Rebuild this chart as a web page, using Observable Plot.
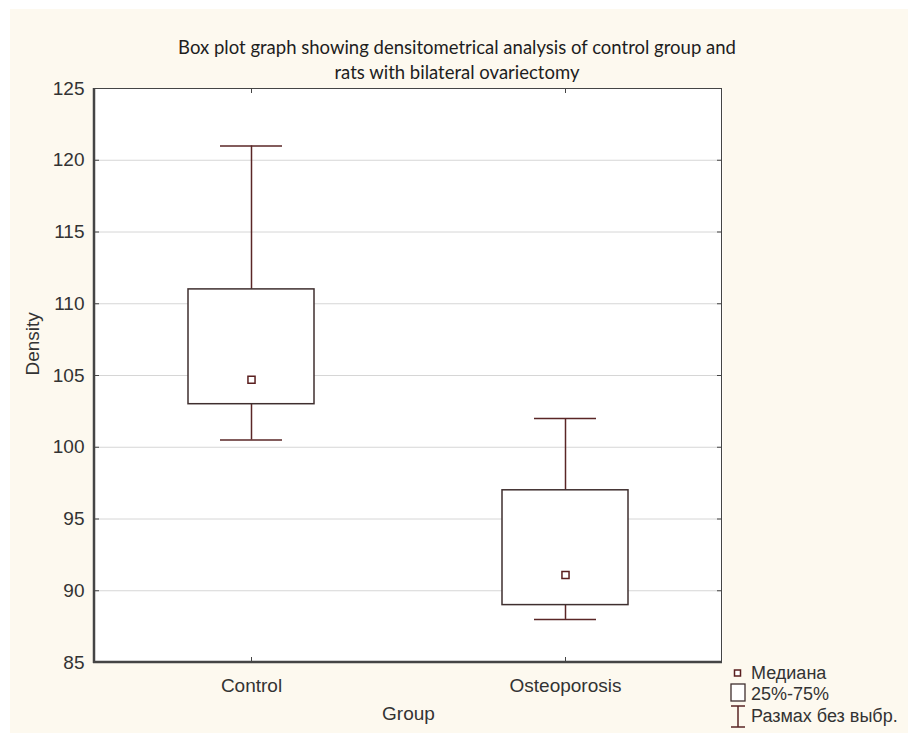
<!DOCTYPE html>
<html>
<head>
<meta charset="utf-8">
<script src="https://cdn.jsdelivr.net/npm/d3@7"></script>
<script src="https://cdn.jsdelivr.net/npm/@observablehq/plot@0.6"></script>
<style>
  body { margin: 0; background: #ffffff; }
  #wrap { position: relative; width: 908px; height: 733px; background: #ffffff; overflow: hidden; }
  #cream { position: absolute; left: 10px; top: 9px; right: 0; bottom: 0; background: #fdf9ef; }
  #title { position: absolute; left: 0; width: 914px; top: 35px; text-align: center;
           font-family: Lato, "Open Sans", sans-serif; font-size: 18.5px; line-height: 25px; color: #1e1e1e; }
  #chart { position: absolute; left: 0; top: 0; }
  #legend { position: absolute; left: 726px; top: 660px; font-family: "Liberation Sans", Arial, sans-serif;
            font-size: 18px; color: #333; }
  .lg { position: absolute; left: 0; white-space: nowrap; height: 22px; display: flex; align-items: center; }
  .lg svg { width: 24px; height: 24px; flex: none; }
  .lg span { margin-left: 1px; }
</style>
</head>
<body>
<div id="wrap">
  <div id="cream"></div>
  <div id="title"></div>
  <div id="chart"></div>
  <div id="legend"></div>
</div>
<script>
// ---- data ----
const groups  = ["Control", "Osteoporosis"];
const mins    = [100.5, 88];
const q1s     = [103, 89];
const medians = [104.7, 91.1];
const q3s     = [111, 97];
const maxs    = [121, 102];
const yTicks  = [85, 90, 95, 100, 105, 110, 115, 120, 125];
const titleLines = ["Box plot graph showing densitometrical analysis of control group and",
                    "rats with bilateral ovariectomy"];
const xLabel = "Group";
const yLabel = "Density";
const legendLabels = ["Медиана", "25%-75%", "Размах без выбр."];

const data = groups.map((g, i) => ({group: g, min: mins[i], q1: q1s[i], median: medians[i], q3: q3s[i], max: maxs[i]}));
const gridTicks = yTicks.filter(t => t > 85 && t < 125);

const boxStroke = "#3f2f2f";
const whiskerStroke = "#5a2626";
const medianStroke = "#5a1f1f";
const axisStroke = "#454545";

document.getElementById("title").innerHTML = titleLines.join("<br>");

// frame decoration: thick left + bottom, thin top + right
function frameLines(...args) {
  const dims = args.find(a => a && typeof a === "object" && a.marginLeft !== undefined);
  const g = d3.create("svg:g");
  const l = dims.marginLeft, r = dims.width - dims.marginRight;
  const t = dims.marginTop, b = dims.height - dims.marginBottom;
  g.append("line").attr("x1", l).attr("x2", r).attr("y1", t + 0.5).attr("y2", t + 0.5)
    .attr("stroke", axisStroke).attr("stroke-width", 1);
  g.append("line").attr("x1", r - 0.5).attr("x2", r - 0.5).attr("y1", t).attr("y2", b)
    .attr("stroke", axisStroke).attr("stroke-width", 1);
  g.append("line").attr("x1", l).attr("x2", l).attr("y1", t).attr("y2", b + 1)
    .attr("stroke", axisStroke).attr("stroke-width", 2.5);
  g.append("line").attr("x1", l - 1).attr("x2", r).attr("y1", b).attr("y2", b)
    .attr("stroke", axisStroke).attr("stroke-width", 2.5);
  return g.node();
}

const W = 908, H = 733;
const mL = 94, mR = 186, mT = 88, mB = 71;
const pw = W - mL - mR, ph = H - mT - mB;

const chart = Plot.plot({
  width: W, height: H,
  marginLeft: mL, marginRight: mR, marginTop: mT, marginBottom: mB,
  style: {background: "transparent", fontFamily: "'Liberation Sans', Arial, sans-serif", fontSize: "19px", color: "#333"},
  x: {type: "band", domain: groups, paddingInner: 0.599, paddingOuter: 0.2995, align: 0.5},
  y: {domain: [85, 125]},
  marks: [
    Plot.frame({fill: "white", stroke: null}),
    Plot.ruleY(gridTicks, {y: d => d, stroke: "#d6d6d6", strokeWidth: 1}),
    // inward ticks
    Plot.tickY(yTicks, {y: d => d, insetRight: pw - 5, stroke: axisStroke, strokeWidth: 1}),
    Plot.tickY(yTicks, {y: d => d, insetLeft: pw - 5, stroke: axisStroke, strokeWidth: 1}),
    Plot.tickX(groups, {x: d => d, insetTop: ph - 5, stroke: axisStroke, strokeWidth: 1}),
    Plot.tickX(groups, {x: d => d, insetBottom: ph - 5, stroke: axisStroke, strokeWidth: 1}),
    // whiskers
    Plot.ruleX(data, {x: "group", y1: "q3", y2: "max", stroke: whiskerStroke, strokeWidth: 1.5}),
    Plot.ruleX(data, {x: "group", y1: "min", y2: "q1", stroke: whiskerStroke, strokeWidth: 1.5}),
    Plot.tickY(data, {x: "group", y: "max", insetLeft: 32, insetRight: 32, stroke: whiskerStroke, strokeWidth: 1.5}),
    Plot.tickY(data, {x: "group", y: "min", insetLeft: 32, insetRight: 32, stroke: whiskerStroke, strokeWidth: 1.5}),
    // boxes
    Plot.barY(data, {x: "group", y1: "q1", y2: "q3", fill: "white", stroke: boxStroke, strokeWidth: 1.5}),
    // medians
    Plot.dot(data, {x: "group", y: "median", symbol: "square", r: 4, fill: "white", stroke: medianStroke, strokeWidth: 1.5}),
    frameLines,
    Plot.axisY(yTicks, {tickSize: 0, tickPadding: 10, label: null, fill: "#333"}),
    Plot.axisX({tickSize: 0, tickPadding: 16, label: null, fill: "#333"}),
    Plot.text([yLabel], {frameAnchor: "left", rotate: -90, dx: -62, fill: "#333"}),
    Plot.text([xLabel], {frameAnchor: "bottom", dy: 57, fill: "#333"})
  ]
});
document.getElementById("chart").appendChild(chart);

// legend
const legend = document.getElementById("legend");
const icons = [
  `<svg viewBox="0 0 24 24"><rect x="8.5" y="9" width="6" height="6" fill="white" stroke="${medianStroke}" stroke-width="1.5"/></svg>`,
  `<svg viewBox="0 0 24 24" style="height:24px"><rect x="5" y="2" width="14" height="17" fill="white" stroke="${boxStroke}" stroke-width="1.3"/></svg>`,
  `<svg viewBox="0 0 24 24" style="height:24px"><path d="M5 2H19M12 2V23M5 23H19" fill="none" stroke="${whiskerStroke}" stroke-width="1.5"/></svg>`
];
const tops = [2, 23, 45];
legendLabels.forEach((lab, i) => {
  const d = document.createElement("div");
  d.className = "lg";
  d.style.top = tops[i] + "px";
  d.innerHTML = icons[i] + `<span>${lab}</span>`;
  legend.appendChild(d);
});
</script>
</body>
</html>
